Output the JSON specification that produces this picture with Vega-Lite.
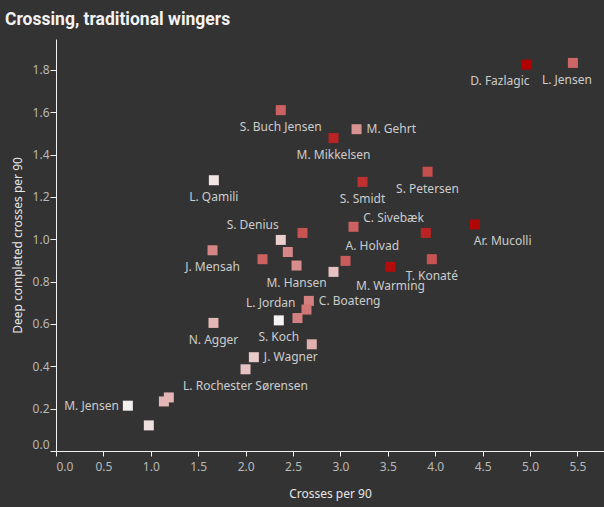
{
  "$schema": "https://vega.github.io/schema/vega-lite/v6.json",
  "width": 548,
  "height": 412,
  "autosize": {"type": "none"},
  "padding": {"left": 56, "top": 39, "right": 0, "bottom": 56},
  "background": "#333333",
  "title": {
    "text": "Crossing, traditional wingers",
    "anchor": "start",
    "frame": "group",
    "dx": -51,
    "dy": 18,
    "offset": 15,
    "baseline": "alphabetic",
    "font": "Roboto",
    "fontSize": 17.5,
    "fontWeight": "bold",
    "color": "#f2f2f2"
  },
  "config": {
    "view": {"stroke": null},
    "axis": {
      "grid": false,
      "domainColor": "#f0f0f0",
      "tickColor": "#f0f0f0",
      "labelColor": "#b8b8b8",
      "labelFont": "Noto Sans",
      "labelFontSize": 12,
      "titleColor": "#e6e6e6",
      "titleFont": "Noto Sans",
      "titleFontSize": 12,
      "titleFontWeight": "normal",
      "labelFlush": true
    }
  },
  "data": {
    "values": [
      {"player": "D. Fazlagic", "crosses": 4.963, "deep": 1.825, "value": 1.0},
      {"player": "L. Jensen", "crosses": 5.452, "deep": 1.833, "value": 0.58},
      {"player": "S. Buch Jensen", "crosses": 2.371, "deep": 1.61, "value": 0.6},
      {"player": "M. Gehrt", "crosses": 3.17, "deep": 1.52, "value": 0.4},
      {"player": "M. Mikkelsen", "crosses": 2.927, "deep": 1.478, "value": 0.85},
      {"player": "L. Qamili", "crosses": 1.665, "deep": 1.279, "value": 0.06},
      {"player": "S. Smidt", "crosses": 3.233, "deep": 1.271, "value": 0.8},
      {"player": "S. Petersen", "crosses": 3.919, "deep": 1.319, "value": 0.68},
      {"player": "Player 9", "crosses": 3.138, "deep": 1.059, "value": 0.6},
      {"player": "S. Denius", "crosses": 2.371, "deep": 0.997, "value": 0.15},
      {"player": "Player 11", "crosses": 2.6, "deep": 1.03, "value": 0.66},
      {"player": "J. Mensah", "crosses": 1.651, "deep": 0.948, "value": 0.45},
      {"player": "Player 13", "crosses": 2.445, "deep": 0.94, "value": 0.45},
      {"player": "Player 14", "crosses": 2.178, "deep": 0.906, "value": 0.6},
      {"player": "M. Hansen", "crosses": 2.537, "deep": 0.876, "value": 0.42},
      {"player": "Player 16", "crosses": 2.927, "deep": 0.846, "value": 0.2},
      {"player": "A. Holvad", "crosses": 3.054, "deep": 0.898, "value": 0.62},
      {"player": "M. Warming", "crosses": 3.528, "deep": 0.87, "value": 0.95},
      {"player": "Ar. Mucolli", "crosses": 4.418, "deep": 1.07, "value": 0.97},
      {"player": "C. Sivebæk", "crosses": 3.901, "deep": 1.03, "value": 0.85},
      {"player": "T. Konaté", "crosses": 3.964, "deep": 0.906, "value": 0.66},
      {"player": "C. Boateng", "crosses": 2.667, "deep": 0.709, "value": 0.47},
      {"player": "Player 23", "crosses": 2.642, "deep": 0.668, "value": 0.52},
      {"player": "L. Jordan", "crosses": 2.547, "deep": 0.628, "value": 0.47},
      {"player": "S. Koch", "crosses": 2.35, "deep": 0.617, "value": 0.0},
      {"player": "N. Agger", "crosses": 1.661, "deep": 0.605, "value": 0.25},
      {"player": "Player 27", "crosses": 2.698, "deep": 0.504, "value": 0.28},
      {"player": "J. Wagner", "crosses": 2.087, "deep": 0.443, "value": 0.17},
      {"player": "L. Rochester Sørensen", "crosses": 1.999, "deep": 0.386, "value": 0.2},
      {"player": "Player 30", "crosses": 1.19, "deep": 0.253, "value": 0.25},
      {"player": "Player 31", "crosses": 1.138, "deep": 0.234, "value": 0.25},
      {"player": "M. Jensen", "crosses": 0.758, "deep": 0.214, "value": 0.02},
      {"player": "Player 33", "crosses": 0.979, "deep": 0.121, "value": 0.08}
    ]
  },
  "encoding": {
    "x": {
      "field": "crosses",
      "type": "quantitative",
      "title": "Crosses per 90",
      "scale": {"domain": [0, 5.78], "nice": false, "zero": false},
      "axis": {"values": [0, 0.5, 1, 1.5, 2, 2.5, 3, 3.5, 4, 4.5, 5, 5.5], "format": ".1f", "tickSize": 5, "labelPadding": 5, "titlePadding": 16}
    },
    "y": {
      "field": "deep",
      "type": "quantitative",
      "title": "Deep completed crosses per 90",
      "scale": {"domain": [0, 1.946], "nice": false, "zero": false},
      "axis": {"values": [0, 0.2, 0.4, 0.6, 0.8, 1, 1.2, 1.4, 1.6, 1.8], "format": ".1f", "tickSize": 6, "labelPadding": 1, "titlePadding": 8}
    }
  },
  "layer": [
    {
      "mark": {"type": "square", "size": 100, "filled": true, "opacity": 1},
      "encoding": {
        "color": {
          "field": "value",
          "type": "quantitative",
          "scale": {"domain": [0, 1], "range": ["#f5f3f3", "#b00000"], "interpolate": "rgb"},
          "legend": null
        }
      }
    },
    {
      "transform": [{"filter": {"field": "player", "oneOf": ["S. Buch Jensen", "M. Mikkelsen", "L. Qamili", "S. Smidt", "S. Petersen", "M. Hansen", "S. Koch", "L. Rochester Sørensen", "N. Agger", "J. Mensah", "T. Konaté"]}}],
      "mark": {"type": "text", "align": "center", "baseline": "middle", "dy": 17, "font": "Noto Sans", "fontSize": 12, "color": "#cccccc"},
      "encoding": {"text": {"field": "player"}}
    },
    {
      "transform": [{"filter": {"field": "player", "oneOf": ["M. Warming"]}}],
      "mark": {"type": "text", "align": "center", "baseline": "middle", "dy": 19, "font": "Noto Sans", "fontSize": 12, "color": "#cccccc"},
      "encoding": {"text": {"field": "player"}}
    },
    {
      "transform": [{"filter": {"field": "player", "oneOf": ["D. Fazlagic"]}}],
      "mark": {"type": "text", "align": "right", "baseline": "middle", "dx": 3, "dy": 16, "font": "Noto Sans", "fontSize": 12, "color": "#cccccc"},
      "encoding": {"text": {"field": "player"}}
    },
    {
      "transform": [{"filter": {"field": "player", "oneOf": ["L. Jensen"]}}],
      "mark": {"type": "text", "align": "center", "baseline": "middle", "dx": -6, "dy": 17, "font": "Noto Sans", "fontSize": 12, "color": "#cccccc"},
      "encoding": {"text": {"field": "player"}}
    },
    {
      "transform": [{"filter": {"field": "player", "oneOf": ["Ar. Mucolli"]}}],
      "mark": {"type": "text", "align": "left", "baseline": "middle", "dx": -1, "dy": 17, "font": "Noto Sans", "fontSize": 12, "color": "#cccccc"},
      "encoding": {"text": {"field": "player"}}
    },
    {
      "transform": [{"filter": {"field": "player", "oneOf": ["S. Denius", "L. Jordan", "C. Sivebæk"]}}],
      "mark": {"type": "text", "align": "right", "baseline": "middle", "dx": -2, "dy": -15, "font": "Noto Sans", "fontSize": 12, "color": "#cccccc"},
      "encoding": {"text": {"field": "player"}}
    },
    {
      "transform": [{"filter": {"field": "player", "oneOf": ["A. Holvad"]}}],
      "mark": {"type": "text", "align": "left", "baseline": "middle", "dx": 0, "dy": -15, "font": "Noto Sans", "fontSize": 12, "color": "#cccccc"},
      "encoding": {"text": {"field": "player"}}
    },
    {
      "transform": [{"filter": {"field": "player", "oneOf": ["M. Gehrt", "J. Wagner", "C. Boateng"]}}],
      "mark": {"type": "text", "align": "left", "baseline": "middle", "dx": 10, "dy": 0, "font": "Noto Sans", "fontSize": 12, "color": "#cccccc"},
      "encoding": {"text": {"field": "player"}}
    },
    {
      "transform": [{"filter": {"field": "player", "oneOf": ["M. Jensen"]}}],
      "mark": {"type": "text", "align": "right", "baseline": "middle", "dx": -9, "dy": 0, "font": "Noto Sans", "fontSize": 12, "color": "#cccccc"},
      "encoding": {"text": {"field": "player"}}
    }
  ]
}
